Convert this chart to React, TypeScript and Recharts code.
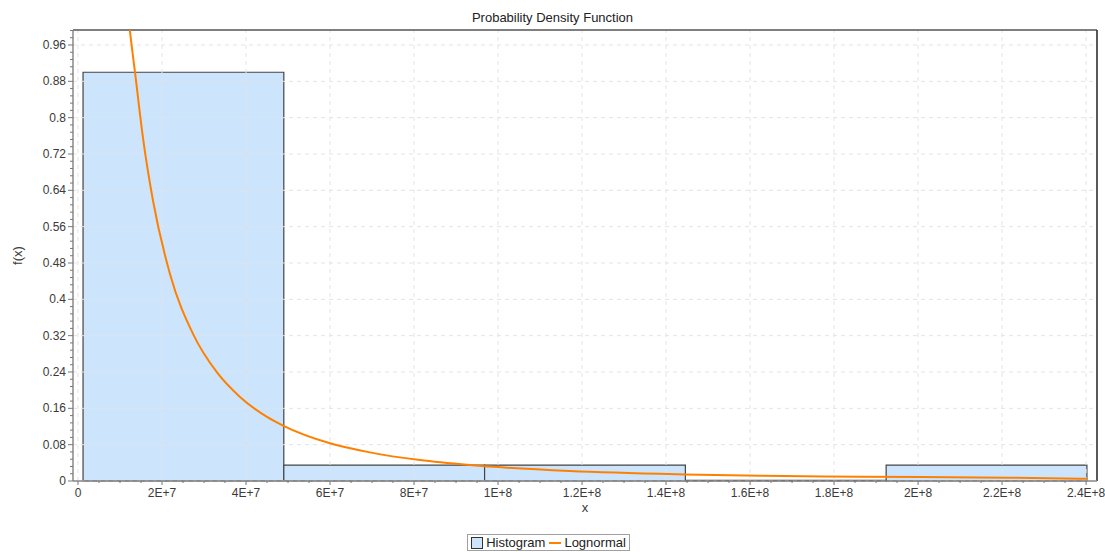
import React from 'react';
import {
  ComposedChart, Line, XAxis, YAxis, ReferenceArea, ReferenceLine, Legend,
} from 'recharts';

// histogram bins (edges) and heights
const binStart = [1.2e6, 4.9e7, 9.68e7, 1.446e8, 1.924e8];
const binEnd = [4.9e7, 9.68e7, 1.446e8, 1.924e8, 2.402e8];
const binHeight = [0.9, 0.035, 0.035, 0.0015, 0.035];

// lognormal fit
const curveX = [
  1.12e7, 1.238e7, 1.357e7, 1.548e7, 1.786e7, 2.19e7, 2.738e7, 3.31e7, 3.857e7,
  4.5e7, 4.88e7, 6.0e7, 6.95e7, 8.14e7, 9.33e7, 1.171e8, 1.445e8, 1.624e8, 1.862e8,
  2.212e8, 2.402e8,
];
const curveY = [
  1.1, 0.99, 0.9, 0.755, 0.617, 0.456, 0.324, 0.239, 0.185,
  0.141, 0.122, 0.083, 0.063, 0.046, 0.035, 0.022, 0.0145, 0.0115, 0.0095,
  0.0073, 0.005,
];

const xMajor = [0, 2e7, 4e7, 6e7, 8e7, 1e8, 1.2e8, 1.4e8, 1.6e8, 1.8e8, 2e8, 2.2e8, 2.4e8];
const xLabels = ['0', '2E+7', '4E+7', '6E+7', '8E+7', '1E+8', '1.2E+8', '1.4E+8', '1.6E+8', '1.8E+8', '2E+8', '2.2E+8', '2.4E+8'];
const yMajor = [0, 0.08, 0.16, 0.24, 0.32, 0.4, 0.48, 0.56, 0.64, 0.72, 0.8, 0.88, 0.96];
const yLabels = ['0', '0.08', '0.16', '0.24', '0.32', '0.4', '0.48', '0.56', '0.64', '0.72', '0.8', '0.88', '0.96'];

const xMin = -1.19e6;
const xMax = 2.426e8;
const yMax = 0.993;

// minor tick positions (4 per x interval, 5 per y interval)
const xTicks = Array.from({ length: 49 }, (_, i) => i * 5e6);
const yTicks = Array.from({ length: 63 }, (_, i) => i * 0.016);

const lineData = curveX.map((x, i) => ({ x, y: curveY[i] }));

const TXT = '#3a3a3a';
const FONT = '"Liberation Sans", Arial, sans-serif';

const XTick = (props: any) => {
  const { x, y, index } = props;
  const major = index % 4 === 0;
  return (
    <g>
      <line x1={x} x2={x} y1={y} y2={y + (major ? 4 : 2)} stroke="#777" />
      {major && (
        <text x={x} y={y + 16} textAnchor="middle" fontSize={12} fill={TXT}>{xLabels[index / 4]}</text>
      )}
    </g>
  );
};

const YTick = (props: any) => {
  const { x, y, index } = props;
  const major = index % 5 === 0;
  return (
    <g>
      <line x1={x - (major ? 5 : 3)} x2={x} y1={y} y2={y} stroke="#777" />
      {major && (
        <text x={x - 7} y={y + 4} textAnchor="end" fontSize={12} fill={TXT}>{yLabels[index / 5]}</text>
      )}
    </g>
  );
};

const YLabel = (props: any) => {
  const { viewBox } = props;
  const cx = 17;
  const cy = viewBox.y + viewBox.height / 2;
  return (
    <text x={cx} y={cy} transform={`rotate(-90 ${cx} ${cy})`} textAnchor="middle" dominantBaseline="central" fontSize={13} fill={TXT}>
      f(x)
    </text>
  );
};

const LegendBox = () => (
  <div style={{ width: '100%', display: 'flex', justifyContent: 'center' }}>
    <div style={{ display: 'inline-flex', alignItems: 'center', border: '1px solid #a0a0a0', padding: '0 3px', height: 15, fontSize: 13, color: '#222', lineHeight: '15px' }}>
      <span style={{ display: 'inline-block', width: 10, height: 10, background: '#cce5fc', border: '1px solid #333', marginRight: 3 }} />
      <span>Histogram</span>
      <span style={{ display: 'inline-block', width: 12, height: 2, background: '#ff8000', margin: '0 3px 0 4px' }} />
      <span>Lognormal</span>
    </div>
  </div>
);

export default function App() {
  return (
    <div style={{ position: 'absolute', left: 0, top: 0, width: 1105, height: 552, fontFamily: FONT, background: '#fff' }}>
      <div style={{ position: 'absolute', left: 0, top: 10, width: 1105, textAlign: 'center', fontSize: 13, color: '#222', lineHeight: '16px' }}>
        Probability Density Function
      </div>
      <ComposedChart width={1105} height={552} data={lineData} margin={{ top: 30, right: 8, left: 0, bottom: 1 }}>
        <XAxis
          dataKey="x"
          type="number"
          domain={[xMin, xMax]}
          allowDataOverflow
          ticks={xTicks}
          interval={0}
          tickLine={false}
          tickSize={0}
          tickMargin={0}
          tick={<XTick />}
          height={53}
          axisLine={{ stroke: '#888', strokeWidth: 1.5 }}
          label={{ value: 'x', position: 'insideTop', offset: 22, fill: TXT, fontSize: 13 }}
        />
        <YAxis
          type="number"
          domain={[0, yMax]}
          allowDataOverflow
          ticks={yTicks}
          interval={0}
          tickLine={false}
          tickSize={0}
          tickMargin={0}
          tick={<YTick />}
          width={73}
          axisLine={{ stroke: '#888', strokeWidth: 1.5 }}
          label={<YLabel />}
        />
        {yMajor.map(v => (
          <ReferenceLine key={`gy${v}`} y={v} stroke="#e4e4e4" strokeDasharray="4 4" />
        ))}
        {xMajor.map(v => (
          <ReferenceLine key={`gx${v}`} x={v} stroke="#e4e4e4" strokeDasharray="4 4" />
        ))}
        <ReferenceLine y={yMax} stroke="#555" strokeWidth={1.5} />
        <ReferenceLine x={xMax} stroke="#222" strokeWidth={1.5} />
        {binStart.map((s, i) => (
          <ReferenceArea
            key={`bin${i}`}
            x1={s}
            x2={binEnd[i]}
            y1={0}
            y2={binHeight[i]}
            fill="#cce5fc"
            fillOpacity={1}
            stroke="#444"
            strokeWidth={1.2}
          />
        ))}
        <Line
          dataKey="y"
          type="monotone"
          stroke="#ff8000"
          strokeWidth={2}
          dot={false}
          isAnimationActive={false}
        />
        <Legend verticalAlign="bottom" content={<LegendBox />} wrapperStyle={{ height: 17, lineHeight: '17px' }} />
      </ComposedChart>
    </div>
  );
}
